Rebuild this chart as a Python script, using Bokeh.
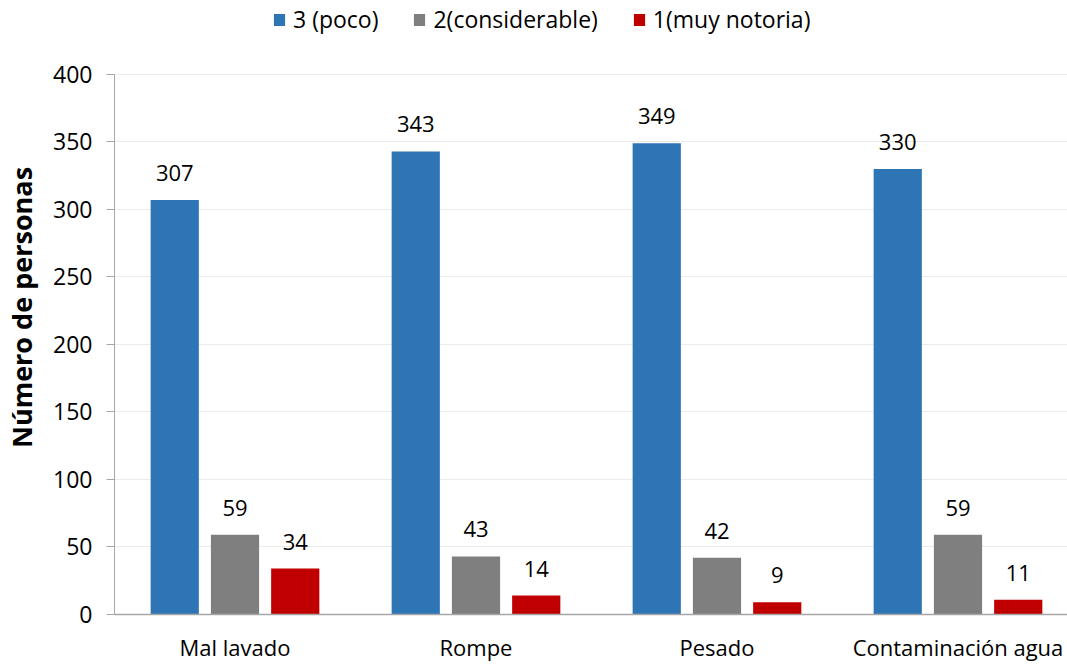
from bokeh.plotting import figure
from bokeh.models import ColumnDataSource, Range1d, FixedTicker, Legend, LegendItem, LabelSet
from bokeh.core.properties import value
from bokeh.embed import file_html
from bokeh.resources import INLINE

categories = ["Mal lavado", "Rompe", "Pesado", "Contaminación agua"]
series_names = ["3 (poco)", "2(considerable)", "1(muy notoria)"]
poco = [307, 343, 349, 330]
considerable = [59, 43, 42, 59]
notoria = [34, 14, 9, 11]
colors = ["#2E75B6", "#7F7F7F", "#C00000"]

FONT = "Open Sans"

p = figure(frame_width=957, frame_height=614, output_backend="svg", toolbar_location=None,
           x_range=Range1d(0, 3.971), y_range=Range1d(0, 454.8),
           min_border_left=110, min_border_right=0, min_border_top=0, min_border_bottom=10)
p.outline_line_color = None

offsets = [-0.25, 0.0, 0.25]
renderers = []
for vals, off, col in zip([poco, considerable, notoria], offsets, colors):
    xs = [i + 0.5 + off for i in range(len(categories))]
    src = ColumnDataSource(dict(x=xs, top=vals, lbl=[str(v) for v in vals]))
    r = p.vbar(x="x", top="top", width=0.2, bottom=0, source=src, fill_color=col, line_color=None)
    renderers.append(r)
    labels = LabelSet(x="x", y="top", text="lbl", source=src, text_align="center",
                      text_baseline="middle", y_offset=27, text_font=value(FONT),
                      text_font_size=value("22px"), text_color="#000000")
    p.add_layout(labels)

p.xaxis.ticker = FixedTicker(ticks=[i + 0.5 for i in range(len(categories))])
p.xaxis.major_label_overrides = {i + 0.5: c for i, c in enumerate(categories)}
p.xaxis.major_tick_line_color = None
p.xaxis.minor_tick_line_color = None
p.xaxis.axis_line_color = "#A6A6A6"
p.xaxis.axis_line_width = 1.5
p.xaxis.major_label_text_font = FONT
p.xaxis.major_label_text_font_size = "22px"
p.xaxis.major_label_text_color = "#000000"
p.xaxis.major_label_standoff = 11

p.yaxis.ticker = FixedTicker(ticks=list(range(0, 401, 50)))
p.yaxis.bounds = (0, 400)
p.yaxis.minor_tick_line_color = None
p.yaxis.axis_line_color = "#A6A6A6"
p.yaxis.major_tick_line_color = "#A6A6A6"
p.yaxis.major_tick_out = 8
p.yaxis.major_tick_in = 0
p.yaxis.major_label_text_font = FONT
p.yaxis.major_label_text_font_size = "23px"
p.yaxis.major_label_text_color = "#000000"
p.yaxis.major_label_standoff = 14
p.yaxis.axis_label = "Número de personas"
p.yaxis.axis_label_text_font = FONT
p.yaxis.axis_label_text_font_size = "27px"
p.yaxis.axis_label_text_font_style = "bold"
p.yaxis.axis_label_text_color = "#000000"
p.yaxis.axis_label_standoff = 10

p.xgrid.grid_line_color = None
p.ygrid.grid_line_color = "#EBEBEB"
p.ygrid.grid_line_width = 1

legend = Legend(items=[LegendItem(label=n, renderers=[r]) for n, r in zip(series_names, renderers)],
                orientation="horizontal", location=(158, 579),
                label_text_font=FONT, label_text_font_size="23px", label_text_color="#000000",
                glyph_width=14, glyph_height=15, spacing=34, label_standoff=7,
                border_line_color=None, background_fill_alpha=0, margin=0, padding=4)
p.add_layout(legend, "center")

open("out.html", "w").write(file_html(p, INLINE))
